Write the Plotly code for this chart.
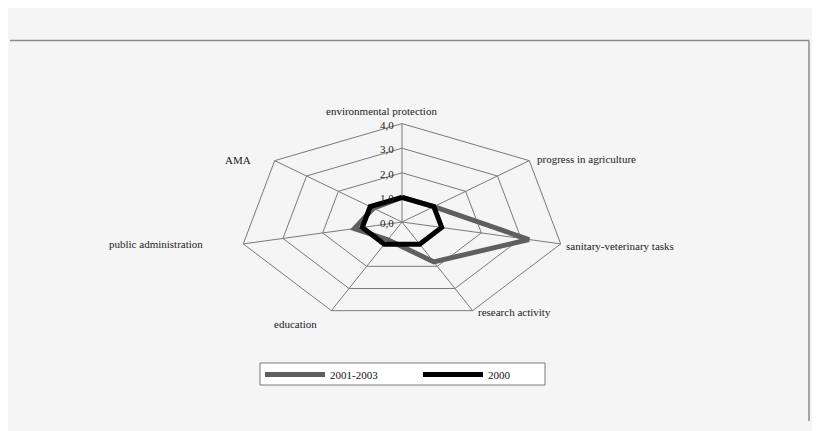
import numpy as np
import plotly.graph_objects as go

# Radar data (index, 2000 = base year)
categories = ["environmental protection", "progress in agriculture", "sanitary-veterinary tasks",
              "research activity", "education", "public administration", "AMA"]
series_names = ["2001-2003", "2000"]
values_2001_2003 = [1.0, 1.0, 3.2, 1.8, 0.8, 1.2, 0.9]
values_2000 = [1.0, 1.0, 1.0, 1.0, 1.0, 1.0, 1.0]
tick_values = [0.0, 1.0, 2.0, 3.0, 4.0]
tick_labels = ["0,0", "1,0", "2,0", "3,0", "4,0"]
r_max = 4.0

FONT = "Times New Roman, Liberation Serif, serif"
W, H = 812, 423          # page body has an 8px margin, so keep figure inside the window
n = len(categories)
# clockwise from the top
angles = np.pi / 2 - 2 * np.pi * np.arange(n) / n


def to_xy(r):
    r = np.asarray(r, dtype=float)
    return r * np.cos(angles), r * np.sin(angles)


def closed(a):
    return np.append(a, a[0])


fig = go.Figure()

# polygon grid
for t in tick_values[1:]:
    gx, gy = to_xy([t] * n)
    fig.add_trace(go.Scatter(x=closed(gx), y=closed(gy), mode="lines",
                             line=dict(color="#7a7a7a", width=1),
                             hoverinfo="skip", showlegend=False))
# spokes
sx, sy = to_xy([r_max] * n)
spoke_x, spoke_y = [], []
for px_, py_ in zip(sx, sy):
    spoke_x += [0, px_, None]
    spoke_y += [0, py_, None]
fig.add_trace(go.Scatter(x=spoke_x, y=spoke_y, mode="lines",
                         line=dict(color="#7a7a7a", width=1),
                         hoverinfo="skip", showlegend=False))

# series
for name, vals, col in [(series_names[0], values_2001_2003, "#5f5f5f"),
                        (series_names[1], values_2000, "#000000")]:
    x, y = to_xy(vals)
    fig.add_trace(go.Scatter(x=closed(x), y=closed(y), mode="lines", name=name,
                             line=dict(color=col, width=5)))

# category labels
label_style = [
    dict(xanchor="center", yanchor="bottom", xshift=-21, yshift=5),
    dict(xanchor="left", yanchor="middle", xshift=6, yshift=2),
    dict(xanchor="left", yanchor="middle", xshift=3, yshift=-2),
    dict(xanchor="left", yanchor="middle", xshift=3, yshift=-1),
    dict(xanchor="right", yanchor="middle", xshift=-12, yshift=-13),
    dict(xanchor="right", yanchor="middle", xshift=-38, yshift=0),
    dict(xanchor="right", yanchor="middle", xshift=-22, yshift=1),
]
for cat, lx, ly, st in zip(categories, sx, sy, label_style):
    fig.add_annotation(x=lx, y=ly, text=cat, showarrow=False,
                       font=dict(family=FONT, size=11, color="#222"), **st)

# radial tick labels
for t, lab in zip(tick_values, tick_labels):
    fig.add_annotation(x=0, y=t, text=lab, showarrow=False, xanchor="right",
                       yanchor="middle", xshift=-6, yshift=-1,
                       font=dict(family=FONT, size=11, color="#222"))

# frame lines
fig.add_shape(type="line", xref="paper", yref="paper", x0=2 / W, x1=801 / W,
              y0=1 - 32.5 / H, y1=1 - 32.5 / H, line=dict(color="#8a8a8a", width=1.5))
fig.add_shape(type="line", xref="paper", yref="paper", x0=801 / W, x1=801 / W,
              y0=1 - 32.5 / H, y1=1 - 413 / H, line=dict(color="#8a8a8a", width=1.5))
# legend box
fig.add_shape(type="rect", xref="paper", yref="paper", x0=252 / W, x1=537 / W,
              y0=1 - 355 / H, y1=1 - 377 / H, layer="below",
              fillcolor="#ffffff", line=dict(color="#7a7a7a", width=1))

sxp, syp = 40.7, 24.6
cx, cy = 394, 214
fig.update_xaxes(range=[-cx / sxp, (W - cx) / sxp], visible=False, fixedrange=True)
fig.update_yaxes(range=[-(H - cy) / syp, cy / syp], visible=False, fixedrange=True)

fig.update_layout(
    width=W, height=H,
    margin=dict(l=0, r=0, t=0, b=0),
    paper_bgcolor="#f5f5f5", plot_bgcolor="#f5f5f5",
    font=dict(family=FONT, size=11, color="#222"),
    showlegend=True,
    legend=dict(orientation="h", x=252 / W, y=1 - 352 / H,
                xanchor="left", yanchor="top",
                bgcolor="rgba(0,0,0,0)", borderwidth=0,
                entrywidth=83, itemwidth=60,
                font=dict(family=FONT, size=11, color="#111")),
)

fig.write_html("out.html")
